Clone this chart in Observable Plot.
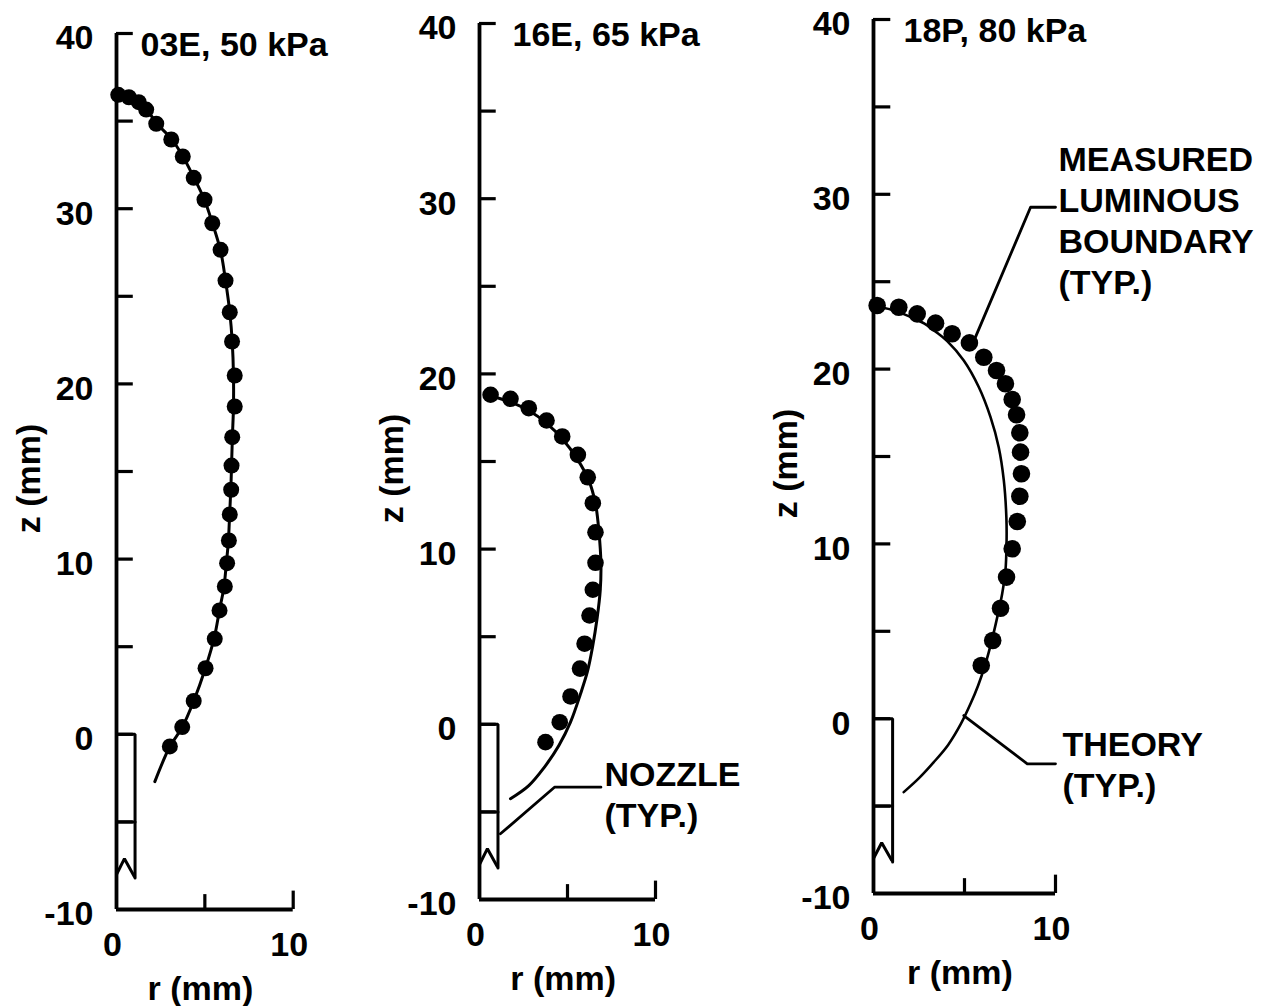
<!DOCTYPE html>
<html><head><meta charset="utf-8">
<script src="https://cdn.jsdelivr.net/npm/d3@7"></script>
<script src="https://cdn.jsdelivr.net/npm/@observablehq/plot@0.6"></script>
<style>
html,body{margin:0;padding:0;background:#fff;}
#fig{position:relative;width:1277px;height:1006px;overflow:hidden;background:#fff;}
#fig svg{position:absolute;top:0;}
</style></head><body><div id="fig"></div>
<script>
// ---- axis ticks ----
const yTickLabels = [-10, 0, 10, 20, 30, 40];
const yTicks = [-5, 0, 5, 10, 15, 20, 25, 30, 35, 40];
const xTickLabels = [0, 10];
const xTicks = [5, 10];

// ---- panel titles ----
const titles = ["03E, 50 kPa", "16E, 65 kPa", "18P, 80 kPa"];

// ---- nozzle (r, z in mm) ----
const nozzleOutline = [[0, 0], [1.05, 0], [1.05, -8.2]];
const nozzleSplit = [[0, -5], [1.05, -5]];
const nozzleBreak = [[0, -8.0], [0.45, -7.1], [1.0, -8.1]];

// ---- 03E, 50 kPa ----
const measured03E = [[0.1,36.5],[0.7,36.36],[1.26,36.08],[1.68,35.66],[2.25,34.85],[3.1,33.95],[3.75,32.98],[4.37,31.76],[4.98,30.51],[5.42,29.17],[5.89,27.65],[6.17,25.9],[6.41,24.09],[6.54,22.42],[6.69,20.48],[6.69,18.71],[6.55,16.96],[6.51,15.34],[6.49,13.96],[6.41,12.55],[6.36,11.06],[6.26,9.77],[6.13,8.44],[5.83,7.07],[5.56,5.45],[5.04,3.77],[4.37,1.9],[3.72,0.41],[3.02,-0.69]];
const theory03E = [[0,36.7],[0.7,36.45],[1.3,36.1],[1.7,35.7],[2.25,34.9],[3.1,34.0],[3.75,33.0],[4.37,31.8],[4.98,30.5],[5.42,29.2],[5.89,27.6],[6.17,25.9],[6.41,24.1],[6.55,22.4],[6.62,20.5],[6.62,18.7],[6.56,17.0],[6.51,15.3],[6.47,14.0],[6.4,12.5],[6.33,11.0],[6.22,9.8],[6.08,8.4],[5.83,7.1],[5.53,5.5],[5.04,3.8],[4.37,1.9],[3.72,0.4],[3.02,-0.7],[2.17,-2.7]];

// ---- 16E, 65 kPa ----
const measured16E = [[0.63,18.81],[1.76,18.58],[2.8,18.04],[3.81,17.34],[4.7,16.43],[5.59,15.38],[6.15,14.1],[6.44,12.62],[6.59,10.96],[6.59,9.22],[6.44,7.68],[6.25,6.21],[5.97,4.6],[5.71,3.18],[5.17,1.59],[4.56,0.12],[3.75,-1.02]];
const theory16E = [[0.6,18.75],[1.76,18.39],[2.8,17.91],[3.85,17.15],[4.7,16.3],[5.55,15.15],[6.21,13.92],[6.59,12.59],[6.78,11.06],[6.9,9.16],[6.86,7.64],[6.69,6.11],[6.42,4.4],[6.13,3.0],[5.74,1.74],[5.17,0.12],[4.51,-1.21],[3.65,-2.5],[2.8,-3.5],[1.76,-4.25]];

// ---- 18P, 80 kPa ----
const measured18P = [[0.2,23.64],[1.39,23.54],[2.4,23.16],[3.41,22.63],[4.32,22.02],[5.27,21.5],[6.06,20.68],[6.76,19.92],[7.25,19.16],[7.62,18.26],[7.86,17.39],[8.04,16.36],[8.08,15.25],[8.13,14.01],[8.04,12.73],[7.9,11.28],[7.62,9.72],[7.31,8.1],[6.98,6.32],[6.55,4.47],[5.92,3.04]];
const theory18P = [[0,23.6],[1,23.4],[2,23.0],[2.8,22.6],[3.4,22.15],[4.05,21.6],[4.96,20.49],[5.79,18.96],[6.43,17.25],[6.88,15.53],[7.16,13.63],[7.3,11.53],[7.31,10.01],[7.25,8.48],[7.07,7.15],[6.8,5.81],[6.5,4.47],[6.15,3.14],[5.75,1.9],[5.33,0.85],[4.8,-0.3],[4.1,-1.5],[3.3,-2.5],[2.5,-3.4],[1.66,-4.2]];

// ---- annotations (r, z in mm) ----
const nozzleLeader = [[1.19,-6.25],[4.26,-3.59],[6.9,-3.59]];
const measuredLeader = [[5.55,21.7],[8.63,29.26],[10.0,29.26]];
const theoryLeader = [[4.96,0.18],[8.45,-2.58],[10.0,-2.58]];
const notes = [
  {panel: 1, r: 7.1, z: -1.88, text: "NOZZLE\n(TYP.)"},
  {panel: 2, r: 10.16, z: 32.98, text: "MEASURED\nLUMINOUS\nBOUNDARY\n(TYP.)"},
  {panel: 2, r: 10.38, z: -0.49, text: "THEORY\n(TYP.)"}
];

const FONT = "'Liberation Sans', Arial, Helvetica, sans-serif";
const FS = 34;

const panels = [
  {left: 0, width: 380, mL: 116, mR: 87.3, mT: 33, mB: 97, measured: measured03E, theory: theory03E, dotR: 8, titleDx: 24, leaders: []},
  {left: 380, width: 380, mL: 99, mR: 105, mT: 23, mB: 107, measured: measured16E, theory: theory16E, dotR: 8.3, titleDx: 33, leaders: [nozzleLeader]},
  {left: 760, width: 517, mL: 113, mR: 222, mT: 19, mB: 113, measured: measured18P, theory: theory18P, dotR: 8.8, titleDx: 30, leaders: [measuredLeader, theoryLeader]}
];

const fig = document.getElementById("fig");
panels.forEach((p, i) => {
  const txt = {fontSize: FS, fontWeight: "bold", fill: "black"};
  const chart = Plot.plot({
    width: p.width, height: 1006,
    marginLeft: p.mL, marginRight: p.mR, marginTop: p.mT, marginBottom: p.mB,
    x: {domain: [0, 10], axis: null},
    y: {domain: [-10, 40], axis: null},
    style: {fontFamily: FONT, background: "transparent", overflow: "visible"},
    marks: [
      // axes
      Plot.ruleX([0], {y1: -10, y2: 40, stroke: "black", strokeWidth: 3.8}),
      Plot.ruleY([-10], {x1: 0, x2: 10, stroke: "black", strokeWidth: 3.8}),
      Plot.ruleY(yTicks, {y: d => d, x1: 0, x2: 0.95, stroke: "black", strokeWidth: 3.2}),
      Plot.ruleX(xTicks, {x: d => d, y1: -10, y2: d => d === 10 ? -8.95 : -9.15, stroke: "black", strokeWidth: 3.2}),
      Plot.text(yTickLabels, {x: 0, y: d => d, text: d => String(d), dx: -23, dy: 5, textAnchor: "end", lineAnchor: "middle", ...txt}),
      Plot.text(xTickLabels, {x: d => d, y: -10, text: d => String(d), dx: -4, dy: 36, textAnchor: "middle", lineAnchor: "middle", ...txt}),
      Plot.text(["z (mm)"], {x: 0, y: 14.6, text: d => d, dx: -87, rotate: -90, textAnchor: "middle", lineAnchor: "middle", ...txt}),
      Plot.text(["r (mm)"], {x: 4.75, y: -10, text: d => d, dy: 80, textAnchor: "middle", lineAnchor: "middle", ...txt}),
      Plot.text([titles[i]], {x: 0, y: 40, text: d => d, dx: p.titleDx, dy: -2, textAnchor: "start", lineAnchor: "top", ...txt}),
      // nozzle
      Plot.line(nozzleOutline, {x: d => d[0], y: d => d[1], stroke: "black", strokeWidth: 3, strokeLinejoin: "miter"}),
      Plot.line(nozzleSplit, {x: d => d[0], y: d => d[1], stroke: "black", strokeWidth: 3}),
      Plot.line(nozzleBreak, {x: d => d[0], y: d => d[1], stroke: "black", strokeWidth: 3, strokeLinejoin: "miter"}),
      // theory
      Plot.line(p.theory, {x: d => d[0], y: d => d[1], stroke: "black", strokeWidth: i === 2 ? 2.6 : 3, curve: "catmull-rom"}),
      // measured
      Plot.dot(p.measured, {x: d => d[0], y: d => d[1], r: p.dotR, fill: "black", stroke: "none"}),
      // leaders and notes
      ...p.leaders.map(L => Plot.line(L, {x: d => d[0], y: d => d[1], stroke: "black", strokeWidth: 2.8})),
      Plot.text(notes.filter(n => n.panel === i), {x: "r", y: "z", text: "text", textAnchor: "start", lineAnchor: "top", lineHeight: 1.2, ...txt})
    ]
  });
  chart.style.left = p.left + "px";
  fig.appendChild(chart);
});
</script>
</body></html>
